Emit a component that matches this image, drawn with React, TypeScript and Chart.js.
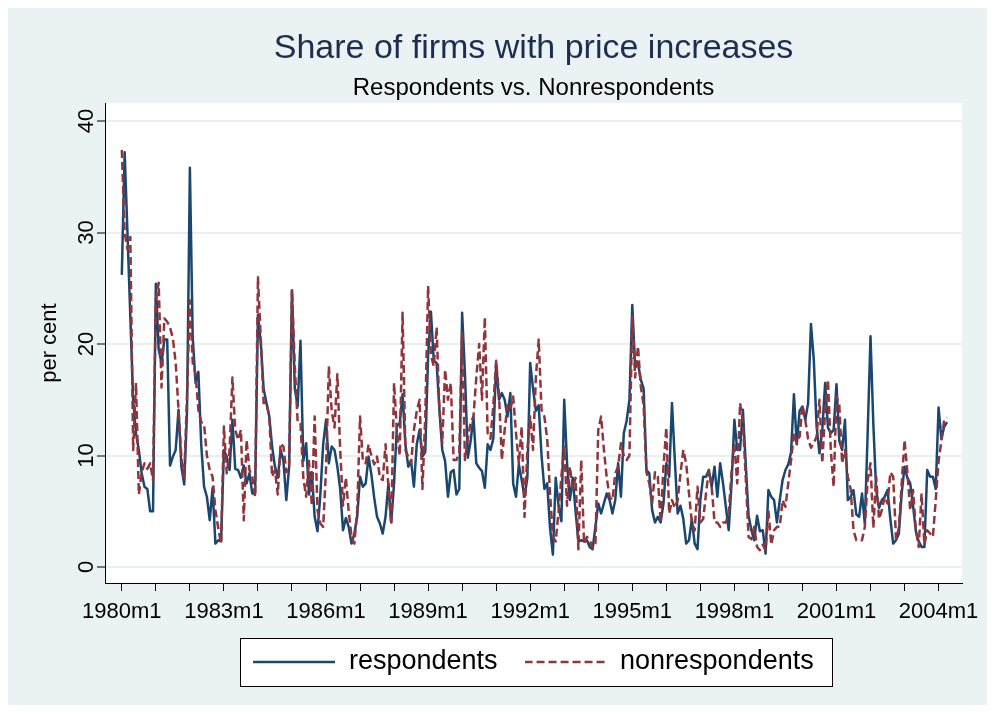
import React, { useEffect, useRef } from 'react';
import { Chart, registerables } from 'chart.js';

Chart.register(...registerables);

// Monthly observations, 1980m1 .. 2004m4 (one row per year)
const respondents: number[] = [
  26.2, 37.2, 29.9, 22.5, 15, 12, 10.5, 8.4, 7.2, 7.0, 5.0, 5.0,
  25.4, 19.5, 18.3, 20.4, 20.4, 9.1, 9.9, 10.5, 14.1, 9.0, 7.4, 14,
  35.8, 20.6, 16.5, 17.5, 11.0, 7.2, 6.3, 4.2, 7.1, 2.1, 2.4, 2.3,
  10.5, 9.9, 8.7, 13.2, 8.8, 8.7, 8.0, 9.1, 7.5, 8.4, 6.6, 6.6,
  22.6, 20.1, 16, 14.7, 13.5, 10.8, 9, 8.0, 10.5, 9.5, 6.0, 9,
  24.8, 16, 14.4, 20.3, 9.5, 11.1, 6.5, 8.5, 4.5, 3.2, 6.5, 11,
  13.2, 9.3, 10.8, 10.5, 9.0, 7, 3.3, 4.4, 3.6, 2.1, 3, 4.5,
  8.1, 7.2, 7.5, 9.9, 8.3, 6.2, 4.5, 3.9, 3.0, 4.5, 7.5, 4.0,
  7.5, 12.6, 12.9, 15.5, 11, 9, 9.5, 7.2, 11, 12.3, 9.9, 10.3,
  19, 22.9, 18.5, 18.3, 14.1, 10.5, 9.5, 6.3, 8.5, 8.7, 6.5, 7,
  22.8, 17.3, 9.8, 11.3, 13.5, 9.3, 8.9, 8.6, 7.1, 11, 10.5, 11.5,
  18.3, 15, 15.6, 15, 13.5, 15.6, 7.5, 6.3, 9.2, 7.8, 6.3, 8,
  18.3, 16, 14, 14.5, 10, 7, 7.5, 3.5, 1.1, 8, 5.5, 4.1,
  15, 9.3, 6.0, 8.0, 5.0, 2.3, 2.4, 2.3, 2.4, 1.8, 1.6, 3.6,
  5.7, 4.8, 5.7, 6.6, 6, 4.8, 6.0, 9.3, 6.3, 12, 13.1, 15,
  23.5, 18, 18.3, 16.8, 16, 8.7, 8.4, 5.1, 4.0, 4.5, 4.0, 5.7,
  9.3, 8.1, 14.7, 9.6, 4.8, 5.5, 4.3, 2.1, 2.4, 4.3, 2.1, 1.6,
  6.0, 8.1, 8.1, 8.7, 7.2, 9.0, 6.3, 9.3, 7.5, 5.4, 3.3, 7.5,
  13.2, 10.5, 10.5, 14.1, 9.3, 4.6, 3.3, 2.4, 4.6, 3.2, 3.3, 1.2,
  6.9, 6.3, 6, 4, 6.0, 7.8, 8.7, 9.2, 10.3, 15.5, 11, 14,
  14.4, 13.2, 14.7, 21.8, 18.6, 12.6, 10.2, 12.3, 16.5, 12.5, 12, 12.3,
  16.4, 11.3, 10.5, 13.2, 6, 6.3, 6.9, 4.7, 4.5, 6.6, 3.9, 12,
  20.7, 12.8, 6.9, 5.3, 6, 6.3, 6.9, 4.3, 2.1, 2.4, 3, 6.6,
  9.0, 8.0, 7.5, 5.5, 3.2, 2.3, 1.8, 1.8, 8.7, 8.1, 8.1, 7,
  14.3, 11.5, 12.6, 13,
];

const nonrespondents: number[] = [
  37.4, 30, 28.5, 29.6, 10.5, 16.5, 6.5, 8.5, 9.3, 8.8, 9.3, 7.8,
  24, 25.5, 16.1, 22.3, 22, 21.5, 20.5, 18.3, 14.1, 9.9, 8.0, 15.5,
  23.9, 18.3, 17.3, 14.1, 13, 12.8, 10, 8.7, 8.1, 5.1, 3.5, 2.1,
  12.6, 8.4, 10.5, 17.0, 12.3, 11.4, 12.3, 4.2, 11.4, 8.7, 8.1, 6.3,
  26, 20.5, 14.7, 14.7, 13.5, 8.1, 8.7, 6.5, 11.1, 10.8, 8.5, 9,
  24.9, 18, 13, 12.9, 8, 6.3, 9.5, 5.5, 13.5, 5.1, 3.9, 3.6,
  8.7, 18, 14, 12.5, 17.3, 10.5, 5.5, 8, 5.0, 2.7, 2.1, 5.1,
  13.5, 9.5, 9.3, 11, 10, 9.2, 9.9, 8.0, 7.8, 11, 7.2, 3.8,
  16.5, 12.2, 10, 22.8, 10.5, 9.9, 9.3, 12.3, 14, 15, 7, 13.5,
  25.2, 19, 18, 21.5, 14.1, 11.1, 17.7, 15, 16.5, 9.6, 9.6, 10.2,
  21, 9.6, 11.5, 13, 13.5, 17, 20, 15, 22.4, 12, 11.5, 14.5,
  18.5, 15.5, 9.6, 12.3, 14.5, 14.1, 15.3, 12, 9.3, 12.6, 4.5, 10.5,
  13.5, 10.5, 17, 20.4, 14.1, 13.5, 11.5, 6.6, 2.7, 2.3, 5.0, 8.1,
  10.8, 5.5, 9, 7.0, 8, 1.6, 9.6, 2.1, 2.7, 2.4, 1.7, 2.1,
  12.3, 13.5, 10.5, 8, 6.3, 6.0, 8.4, 9, 11.1, 10, 9.6, 10,
  22.5, 17, 19.8, 16.2, 14.5, 8.5, 7.5, 5.7, 8.5, 8.1, 4, 9,
  12.5, 4.8, 6, 5.3, 6.0, 8.4, 10.5, 9.3, 6.6, 4, 3.3, 7.2,
  4, 4.3, 6.6, 8.7, 7.2, 4, 4.0, 3.6, 4, 4, 4.8, 8.5,
  11.1, 7.5, 14.7, 13, 8.1, 2.7, 2.5, 3.6, 1.8, 1.5, 2.0, 1.5,
  5.1, 2.0, 3.3, 3.6, 3.6, 6.0, 5.4, 7.5, 9.6, 12, 11.1, 11.7,
  14.5, 13.2, 11.5, 10.7, 11.1, 11.7, 15, 9.3, 14.1, 16.8, 10.5, 7.2,
  15.3, 14.5, 9.3, 10.5, 8.1, 7, 3.3, 2.4, 2.4, 2.4, 3.6, 7.8,
  9.3, 3.5, 8.1, 4.3, 5.1, 6.3, 5.7, 8.5, 8.1, 2.5, 3.5, 7.5,
  11.4, 8.5, 5.1, 6.9, 3.3, 1.8, 6.6, 2.0, 3.3, 3.0, 2.7, 6.0,
  9.5, 11.3, 13.2, 13.4,
];

// x is the month index counted from 1980m1
const xLabelValues: number[] = [0, 36, 72, 108, 144, 180, 216, 252, 288];
const xTickLabels: string[] = ['1980m1', '1983m1', '1986m1', '1989m1', '1992m1', '1995m1', '1998m1', '2001m1', '2004m1'];
const xMinorTicks: number[] = [0, 12, 24, 36, 48, 60, 72, 84, 96, 108, 120, 132, 144, 156, 168, 180, 192, 204, 216, 228, 240, 252, 264, 276, 288];
const yTickValues: number[] = [0, 10, 20, 30, 40];

const FONT = "'Liberation Sans', Arial, Helvetica, sans-serif";
const BLUE = 'rgb(26,71,111)';
const RED = 'rgb(144,53,59)';
const BG = 'rgb(234,242,243)';
const LEGEND_FONT = 27;
const LEGEND_PAD = 27;
const LINE_W = 2.5;
const DASH = [8, 4];

function makeLegendSample(color: string, dash: number[]): HTMLCanvasElement {
  const c = document.createElement('canvas');
  c.width = 82;
  c.height = 4;
  const g = c.getContext('2d');
  if (g) {
    g.strokeStyle = color;
    g.lineWidth = LINE_W;
    g.setLineDash(dash);
    g.beginPath();
    g.moveTo(0, 2);
    g.lineTo(82, 2);
    g.stroke();
  }
  return c;
}

export default function App() {
  const ref = useRef<HTMLCanvasElement>(null);

  useEffect(() => {
    const canvas = ref.current;
    if (!canvas) return;

    const bgPlugin = {
      id: 'stataBackground',
      beforeDraw(chart: any) {
        const { ctx, chartArea: a, width, height } = chart;
        ctx.save();
        ctx.fillStyle = BG;
        ctx.fillRect(0, 0, width, height);
        ctx.fillStyle = '#ffffff';
        ctx.fillRect(a.left, a.top, a.right - a.left, a.bottom - a.top);
        const lg = chart.legend;
        if (lg) {
          const cx = (lg.left + lg.right) / 2;
          const cy = lg.top + LEGEND_PAD + LEGEND_FONT / 2;
          const x0 = Math.round(cx - 294);
          const x1 = Math.round(cx + 298);
          const y0 = Math.round(cy - 24);
          const y1 = Math.round(cy + 24);
          ctx.fillRect(x0, y0, x1 - x0, y1 - y0);
          ctx.strokeStyle = '#000';
          ctx.lineWidth = 1;
          ctx.strokeRect(x0 + 0.5, y0 + 0.5, x1 - x0, y1 - y0);
        }
        ctx.restore();
      },
    };

    const chart = new Chart(canvas, {
      type: 'line',
      data: {
        datasets: [
          {
            label: 'respondents',
            data: respondents.map((v, i) => ({ x: i, y: v })),
            borderColor: BLUE,
            backgroundColor: BLUE,
            borderWidth: LINE_W,
            pointRadius: 0,
            pointStyle: makeLegendSample(BLUE, []),
            tension: 0,
            borderJoinStyle: 'round',
            order: 2,
          },
          {
            label: 'nonrespondents',
            data: nonrespondents.map((v, i) => ({ x: i, y: v })),
            borderColor: RED,
            backgroundColor: RED,
            borderWidth: LINE_W,
            borderDash: DASH,
            pointRadius: 0,
            pointStyle: makeLegendSample(RED, DASH),
            tension: 0,
            borderJoinStyle: 'round',
            order: 1,
          },
        ],
      },
      options: {
        animation: false,
        responsive: false,
        devicePixelRatio: 1,
        events: [],
        font: { family: FONT },
        layout: { padding: { top: 0, right: 16, bottom: 19.5, left: 0 } },
        plugins: {
          title: {
            display: true,
            text: 'Share of firms with price increases',
            color: 'rgb(30,45,80)',
            font: { size: 34, weight: 'normal', family: FONT },
            padding: { top: 20, bottom: 0 },
            fullSize: false,
          },
          subtitle: {
            display: true,
            text: 'Respondents vs. Nonrespondents',
            color: '#000',
            font: { size: 24, weight: 'normal', family: FONT },
            padding: { top: 5.5, bottom: 0 },
            fullSize: false,
          },
          legend: {
            position: 'bottom',
            fullSize: false,
            labels: {
              usePointStyle: true,
              pointStyleWidth: 82,
              boxWidth: 82,
              padding: LEGEND_PAD,
              color: '#000',
              font: { size: LEGEND_FONT, family: FONT },
              sort: (a: any, b: any) => a.datasetIndex - b.datasetIndex,
            },
          },
          tooltip: { enabled: false },
        },
        scales: {
          x: {
            type: 'linear',
            bounds: 'data',
            min: -5.93,
            max: 296.3,
            afterBuildTicks: (s: any) => {
              s.ticks = xMinorTicks.map((v) => ({ value: v }));
            },
            afterFit: (s: any) => {
              s.height = 38.5;
            },
            ticks: {
              autoSkip: false,
              maxRotation: 0,
              minRotation: 0,
              padding: 8,
              color: '#000',
              font: { size: 22, family: FONT },
              callback: (value: any) => {
                const k = xLabelValues.indexOf(Number(value));
                return k >= 0 ? xTickLabels[k] : '';
              },
            },
            grid: {
              drawOnChartArea: false,
              drawTicks: true,
              tickLength: 8,
              tickColor: '#000',
              tickWidth: 1,
            },
            border: { display: true, color: '#000', width: 1 },
          },
          y: {
            type: 'linear',
            bounds: 'data',
            min: -1.435,
            max: 41.61,
            afterBuildTicks: (s: any) => {
              s.ticks = yTickValues.map((v) => ({ value: v }));
            },
            afterFit: (s: any) => {
              s.width = 97;
            },
            ticks: {
              minRotation: 90,
              maxRotation: 90,
              crossAlign: 'center',
              padding: -2,
              color: '#000',
              font: { size: 22, family: FONT },
              callback: (value: any) => String(value),
            },
            grid: {
              color: 'rgb(232,240,241)',
              lineWidth: 2,
              drawTicks: true,
              tickLength: 8,
              tickColor: '#000',
              tickWidth: 1,
            },
            border: { display: true, color: '#000', width: 1 },
            title: {
              display: true,
              text: 'per cent',
              color: '#000',
              font: { size: 22, family: FONT },
              padding: { top: 29, bottom: 0 },
            },
          },
        },
      },
      plugins: [bgPlugin],
    } as any);

    return () => {
      chart.destroy();
    };
  }, []);

  return (
    <div style={{ width: 979, height: 697 }}>
      <canvas ref={ref} width={979} height={697} style={{ display: 'block', width: 979, height: 697 }} />
    </div>
  );
}
